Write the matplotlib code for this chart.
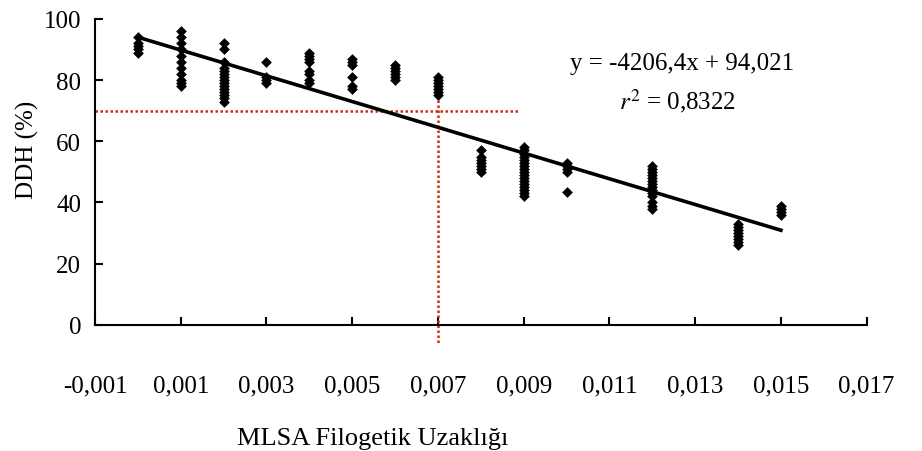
import numpy as np
import matplotlib
matplotlib.use("Agg")
import matplotlib.pyplot as plt

plt.rcParams['font.family'] = ['Liberation Serif', 'DejaVu Serif']
plt.rcParams['mathtext.fontset'] = 'stix'

# Uzaklik degerleri ve her uzaklik icin okunan DDH (%) degerleri
uzaklik = [0.000, 0.001, 0.002, 0.003, 0.004, 0.005, 0.006, 0.007,
           0.008, 0.009, 0.010, 0.012, 0.014, 0.015]
ddh = [
    [94, 92, 91, 90, 89],
    [96, 94, 92, 90, 88, 86, 84, 82, 80, 79, 78],
    [92, 90, 86, 84, 83, 82, 81, 80, 79, 78, 77, 76, 75, 74, 73],
    [86, 81, 80, 79],
    [89, 88, 87, 86, 83, 82, 80, 79],
    [87, 86, 85, 81, 78, 77],
    [85, 84, 83, 82, 81, 80],
    [81, 80, 79, 78, 77, 76, 75],
    [57, 55, 54, 53, 52, 51, 50],
    [58, 57, 56, 55, 54, 53, 52, 51, 50, 49, 48, 47, 46, 45, 44, 43, 42],
    [53, 52, 51, 50, 43.5],
    [52, 51, 50, 49, 48, 47, 46, 45, 44, 43, 42, 40, 39, 38],
    [33, 32, 31, 30, 29, 28, 27, 26],
    [39, 38, 37, 36],
]

# Regresyon denklemi
egim = -4206.4
kesim = 94.021
r2 = 0.8322
fit_aralik = [0.0, 0.015]

# Kesikli kirmizi cizgiler (esik degerleri)
esik_ddh = 70
esik_uzaklik = 0.007

xticks = [-0.001, 0.001, 0.003, 0.005, 0.007, 0.009, 0.011, 0.013, 0.015, 0.017]
xtick_labels = ['-0,001', '0,001', '0,003', '0,005', '0,007', '0,009',
                '0,011', '0,013', '0,015', '0,017']
yticks = [0, 20, 40, 60, 80, 100]

fig = plt.figure(figsize=(9.22, 4.52), dpi=100)
ax = fig.add_axes([0.103, 0.279, 0.837, 0.677])

xs = []
ys = []
for u, vals in zip(uzaklik, ddh):
    xs += [u] * len(vals)
    ys += vals
ax.scatter(xs, ys, marker='D', s=30, color='black', zorder=3, linewidths=0)

xf = np.array(fit_aralik)
ax.plot(xf, egim * xf + kesim, color='black', lw=2.6, zorder=4)

ax.plot([-0.001, 0.0089], [esik_ddh, esik_ddh], color='#d42a10', lw=1.8,
        ls=(0, (1, 1)), zorder=2, clip_on=False)
ax.plot([esik_uzaklik, esik_uzaklik], [80, -6], color='#d42a10', lw=1.8,
        ls=(0, (1, 1)), zorder=2, clip_on=False)

ax.text(0.0127, 85.5, 'y = -4206,4x + 94,021', fontsize=18, ha='center', va='center')
ax.text(0.0126, 73.5, r'$r^{2}$ = 0,8322', fontsize=18, ha='center', va='center')

ax.set_xlim(-0.001, 0.017)
ax.set_ylim(0, 100)
ax.set_xticks(xticks)
ax.set_xticklabels(xtick_labels)
ax.set_yticks(yticks)
ax.tick_params(axis='both', direction='in', length=6, width=1.5, labelsize=18)
ax.tick_params(axis='x', pad=36)
ax.tick_params(axis='y', pad=10)

for s in ['top', 'right']:
    ax.spines[s].set_visible(False)
for s in ['left', 'bottom']:
    ax.spines[s].set_linewidth(1.5)

ax.set_ylabel('DDH (%)', fontsize=18)
ax.yaxis.set_label_coords(-0.072, 0.575)
ax.set_xlabel('MLSA Filogetik Uzaklığı', fontsize=19)
ax.xaxis.set_label_coords(0.36, -0.335)

fig.savefig('out.png', dpi=100)
